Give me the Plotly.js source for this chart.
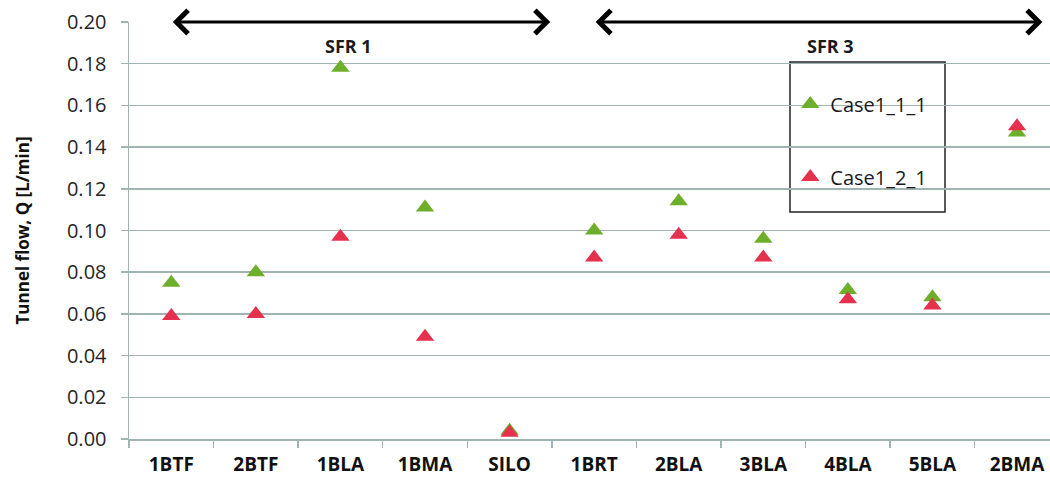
<!DOCTYPE html>
<html>
<head>
<meta charset="utf-8">
<script src="https://cdn.plot.ly/plotly-3.0.1.min.js"></script>
<style>html,body{margin:0;padding:0;background:#fff;}#chart{width:1050px;height:482px;}</style>
</head>
<body>
<div id="chart"></div>
<script>
// Categories (tunnels / repository parts)
const categories = ['1BTF','2BTF','1BLA','1BMA','SILO','1BRT','2BLA','3BLA','4BLA','5BLA','2BMA'];
// Tunnel flow Q [L/min]
const case1_1_1 = [0.075, 0.080, 0.178, 0.111, 0.004, 0.100, 0.114, 0.096, 0.0715, 0.068, 0.147];
const case1_2_1 = [0.059, 0.060, 0.097, 0.049, 0.003, 0.087, 0.098, 0.087, 0.067, 0.064, 0.150];
const seriesNames = ['Case1_1_1', 'Case1_2_1'];
const seriesColors = ['#6DAE2A', '#E5304E'];
// Repository group spans (category index positions) and labels
const groupLabels = ['SFR 1', 'SFR 3'];
const groupStart = [0, 5];
const groupEnd = [4.48, 10.3];
const groupLabelPos = [2.1, 7.8];

const font = 'Open Sans, Noto Sans, sans-serif';
const gridColor = '#A0B4B4';

const traces = [case1_1_1, case1_2_1].map((vals, i) => ({
  type: 'scatter',
  mode: 'markers',
  x: categories,
  y: vals,
  name: seriesNames[i],
  legendgroup: 'g' + i,
  marker: {symbol: 'triangle-up', size: 16, color: seriesColors[i]},
  cliponaxis: false
}));

const annotations = [];
groupLabels.forEach((lab, i) => {
  annotations.push({
    x: groupEnd[i], y: 0.2, xref: 'x', yref: 'y',
    ax: groupStart[i], ay: 0.2, axref: 'x', ayref: 'y',
    text: '', showarrow: true, arrowhead: 4, startarrowhead: 4,
    arrowside: 'end+start', arrowsize: 1.5, startarrowsize: 1.5,
    arrowwidth: 3, arrowcolor: '#000'
  });
  annotations.push({
    x: groupLabelPos[i], y: 0.1885, xref: 'x', yref: 'y',
    text: '<b>' + lab + '</b>', showarrow: false,
    font: {family: font, size: 18, color: '#1a1a1a'}
  });
});

const layout = {
  width: 1050, height: 482,
  margin: {l: 129, r: 0, t: 22, b: 43},
  paper_bgcolor: '#fff', plot_bgcolor: '#fff',
  showlegend: true,
  legend: {
    x: 0.718, xanchor: 'left', y: 0.85, yanchor: 'top',
    bgcolor: 'rgba(0,0,0,0)', borderwidth: 0,
    tracegroupgap: 44, traceorder: 'grouped',
    font: {family: font, size: 20, color: '#1a1a1a'}
  },
  xaxis: {
    type: 'category', range: [-0.5, 10.39],
    showgrid: false, showline: true, linecolor: gridColor, linewidth: 1.5,
    ticks: 'outside', ticklen: 7, tickcolor: gridColor, tickwidth: 1.5,
    tickson: 'boundaries', ticklabelstandoff: 8,
    tickfont: {family: font, size: 19, color: '#111', weight: 'bold'},
    zeroline: false, fixedrange: true
  },
  yaxis: {
    range: [0, 0.2], dtick: 0.02, tickformat: '.2f',
    showgrid: true, gridcolor: gridColor, gridwidth: 1.5,
    showline: true, linecolor: gridColor, linewidth: 1.5,
    ticks: 'outside', ticklen: 7, tickcolor: gridColor, tickwidth: 1.5,
    ticklabelstandoff: 10,
    tickfont: {family: font, size: 20, color: '#262626'},
    zeroline: false, fixedrange: true,
    title: {text: '<b>Tunnel flow, Q [L/min]</b>', standoff: 33,
            font: {family: font, size: 17, color: '#111'}}
  },
  shapes: [{
    type: 'rect', xref: 'paper', yref: 'paper',
    x0: 0.7177, x1: 0.886, y0: 0.5444, y1: 0.904,
    line: {color: '#222', width: 1.5}, fillcolor: '#fff', layer: 'between'
  }],
  annotations: annotations
};

Plotly.newPlot('chart', traces, layout, {displayModeBar: false, staticPlot: true});
</script>
</body>
</html>
